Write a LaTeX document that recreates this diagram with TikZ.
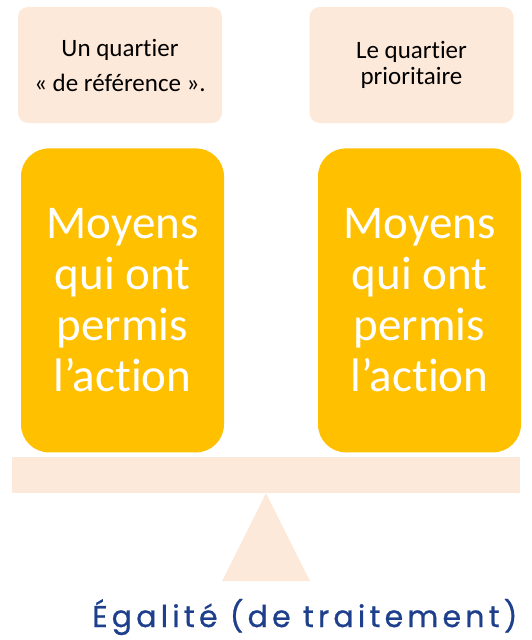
\documentclass[tikz,border=0pt]{standalone}
\usepackage{fontspec}
\setmainfont{Carlito}[Ligatures=NoCommon]
\newfontfamily\titrefont[LetterSpace=14, FakeBold=0.8]{Poppins}
\usetikzlibrary{positioning}
\definecolor{peche}{HTML}{FDE9D9}
\definecolor{ambre}{HTML}{FFC000}
\definecolor{bleuroi}{HTML}{1D3F8C}
\tikzset{
	%Define style for the small boxes on top
	quartier/.style={
		rectangle,
		rounded corners=10pt,
		fill=peche,
		minimum width=204pt,
		minimum height=116pt,
		align=center},
	%Define style for the tall boxes
	moyens/.style={
		rectangle,
		rounded corners=28pt,
		fill=ambre,
		text=white,
		minimum width=203pt,
		minimum height=304pt,
		align=center,
		font=\fontsize{47}{51}\selectfont},
	% Define style for the beam and its foot
	fleau/.style={
		fill=peche,
		inner sep=0pt}
}

\begin{document}
\begin{tikzpicture}[x=1pt, y=-1pt]
	\useasboundingbox (0,0) rectangle (532,640);
	
	\node[quartier, font=\fontsize{25}{35}\selectfont] (quartierA) at (120,65) {Un quartier\\« de référence ».};
	\node[quartier, font=\fontsize{25}{26}\selectfont] (quartierB) at (411.5,65) {Le quartier\\prioritaire};
	
	\node[moyens, below=25pt of quartierA.south, anchor=north, xshift=2.5pt] (moyensA) {Moyens\\qui ont\\permis\\l’action};
	\node[moyens, below=25pt of quartierB.south, anchor=north, xshift=8pt] (moyensB) {Moyens\\qui ont\\permis\\l’action};
	
	\node[fleau, minimum width=508pt, minimum height=36pt] (barre) at (266,475) {};
	\fill[peche] (barre.south) -- (310,581) -- (222,581) -- cycle;
	
	\node[text=bleuroi, font=\titrefont\fontsize{30}{34}\selectfont, anchor=base east] (egalite) at (521,627) {Égalité (de traitement)};
	
\end{tikzpicture}
\end{document}
